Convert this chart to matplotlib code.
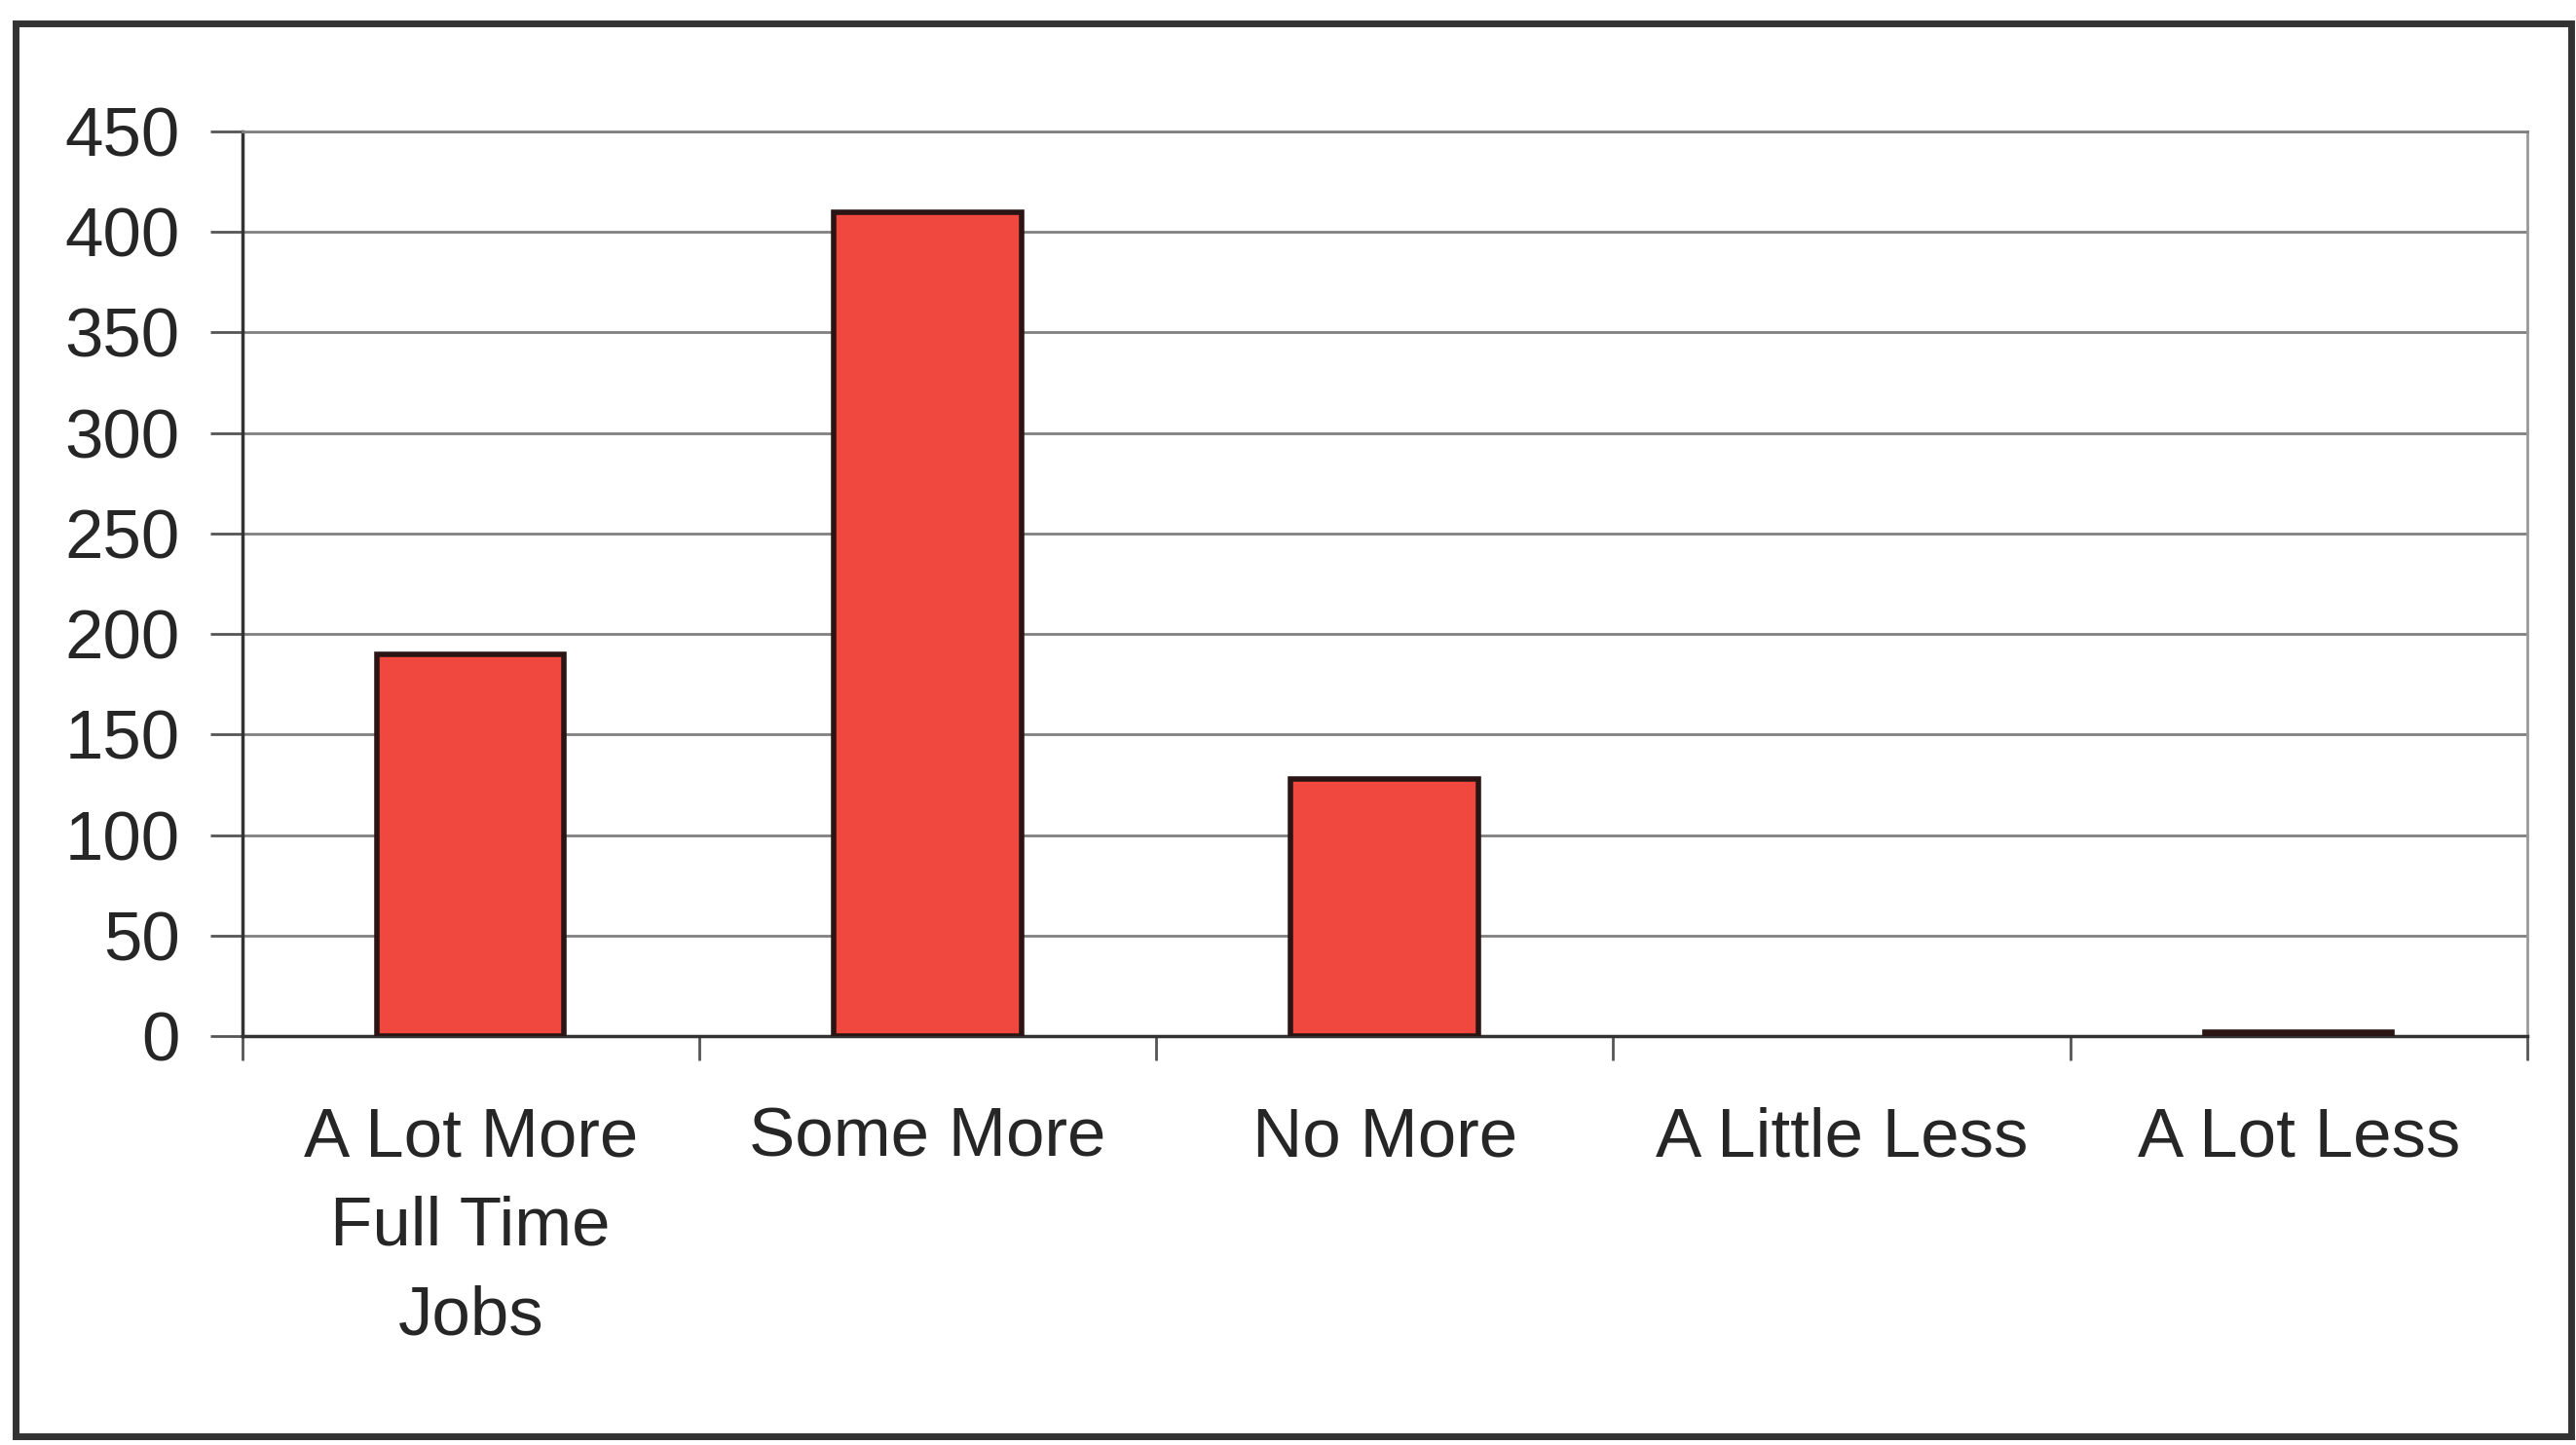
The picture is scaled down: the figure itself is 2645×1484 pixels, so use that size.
import matplotlib
matplotlib.use("Agg")
import matplotlib.pyplot as plt
import numpy as np

plt.rcParams['font.family'] = ['Liberation Sans', 'DejaVu Sans']

# data
categories = ['A Lot More\nFull Time\nJobs', 'Some More', 'No More', 'A Little Less', 'A Lot Less']
counts = [190, 410, 128, 0, 2]
yticks = [0, 50, 100, 150, 200, 250, 300, 350, 400, 450]

fig = plt.figure(figsize=(26.45, 14.84), dpi=100)
ax = fig.add_axes([0.094, 0.283, 0.887, 0.626])

x = np.arange(len(categories))
edge_w = [4 if c > 0 else 0 for c in counts]
ax.bar(x, counts, width=0.41, color='#F0483F', edgecolor='#2a1414', linewidth=edge_w, zorder=3)

ax.set_xlim(-0.5, len(categories) - 0.5)
ax.set_ylim(0, 450)
ax.set_yticks(yticks)
ax.set_yticklabels([str(v) for v in yticks], fontsize=51, color='#262626')
ax.yaxis.grid(True, color='#808080', linewidth=2, zorder=0)

# category labels between boundary ticks
ax.set_xticks(x)
ax.set_xticklabels(categories, fontsize=51, color='#262626', linespacing=1.5)
ax.tick_params(axis='x', length=0, pad=52)
ax.set_xticks(np.arange(len(categories) + 1) - 0.5, minor=True)
ax.tick_params(axis='x', which='minor', length=18, width=2, color='#555555')
ax.tick_params(axis='y', length=24, width=2, color='#555555', pad=22)

for side in ['left', 'bottom']:
    ax.spines[side].set_color('#333333')
    ax.spines[side].set_linewidth(2.5)
ax.spines['top'].set_color('#808080')
ax.spines['top'].set_linewidth(2)
ax.spines['right'].set_color('#999999')
ax.spines['right'].set_linewidth(2)

# outer frame around the whole chart
frame = plt.Rectangle((0.006, 0.006), 0.992, 0.978, transform=fig.transFigure,
                      fill=False, edgecolor='#333333', linewidth=5)
fig.patches.append(frame)

fig.savefig('out.png', dpi=100)
